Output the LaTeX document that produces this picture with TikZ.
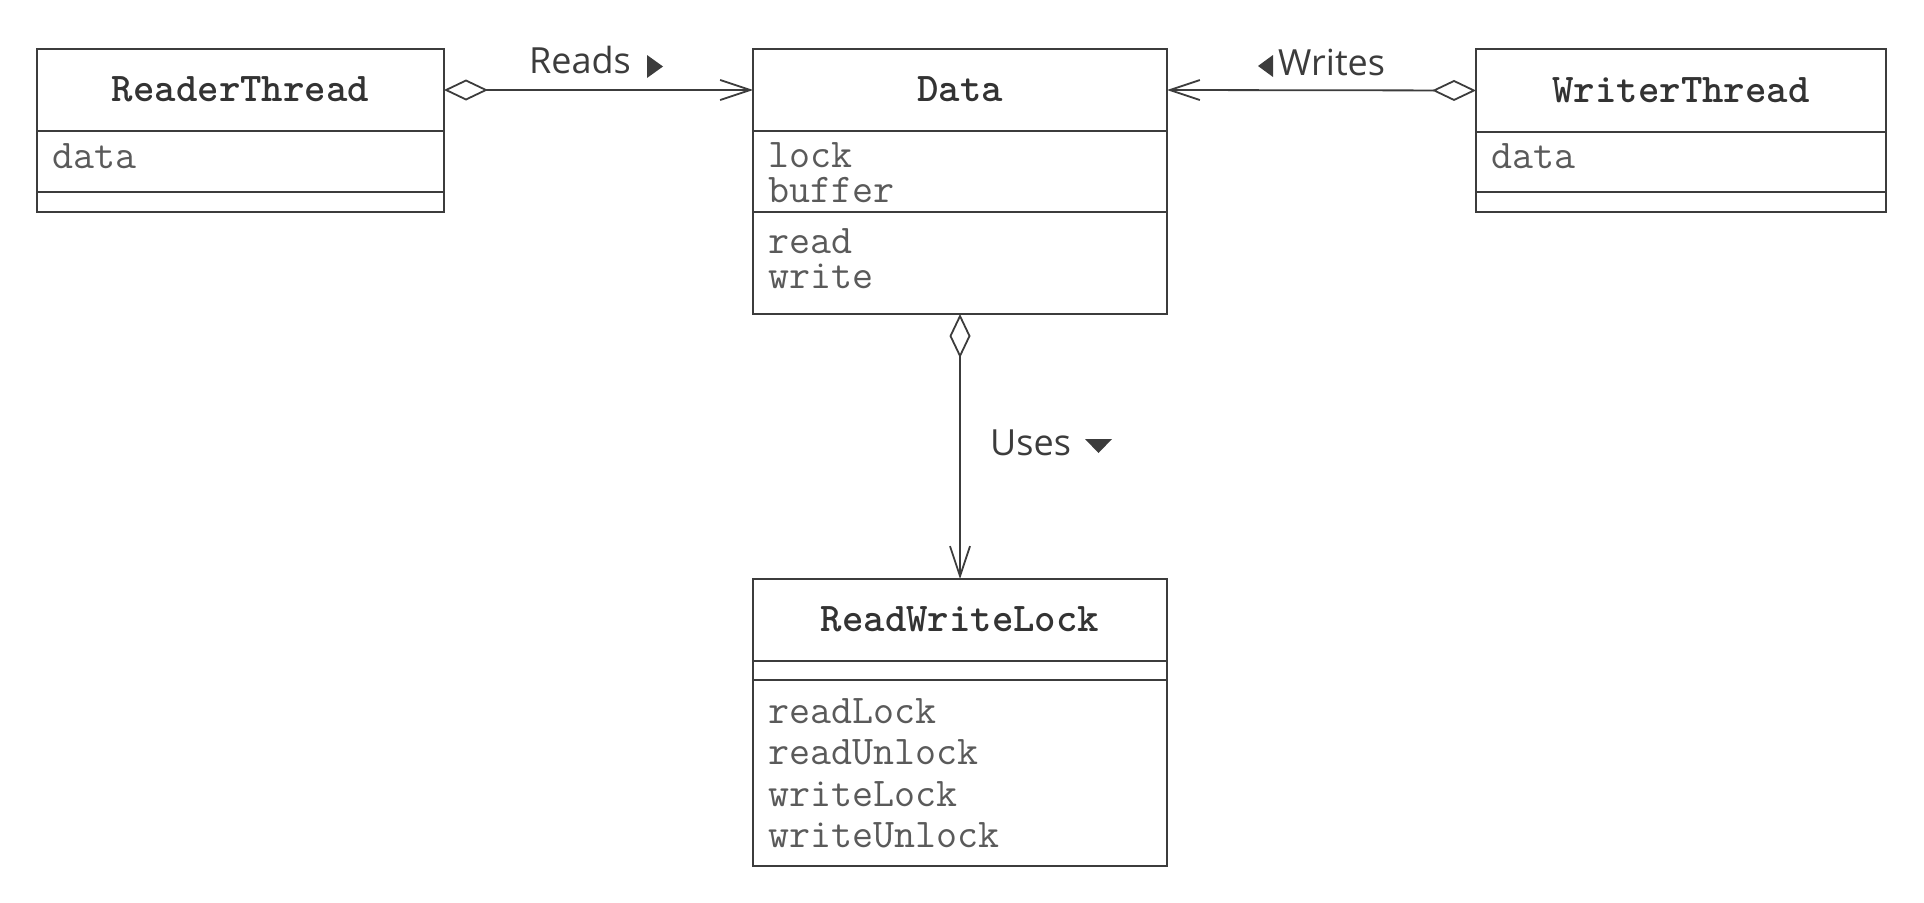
\documentclass[tikz,border=0pt]{standalone}
\usepackage{fontspec}
\usetikzlibrary{arrows.meta}
\newfontfamily\labelfont{Open Sans}
\definecolor{ln}{HTML}{3C3C3C}
\definecolor{itm}{HTML}{5A5A5A}
\definecolor{ttl}{HTML}{333333}
\begin{document}
\begin{tikzpicture}[x=1pt,y=-1pt,
  cls/.style={draw=ln, line width=1.8pt, rectangle, inner sep=0pt, outer sep=0pt, anchor=north west},
  ttlstyle/.style={font=\fontsize{40.8}{40.8}\selectfont\ttfamily\bfseries, text=ttl, text height=23pt, text depth=0pt},
  itemtext/.style={font=\fontsize{40.8}{40.8}\selectfont\ttfamily, text=itm, anchor=base west, inner sep=0pt, text height=22pt, text depth=4pt},
  lbl/.style={font=\fontsize{36}{36}\selectfont\labelfont, text=ln, anchor=base west, inner sep=0pt},
  tri/.style={fill=ln, draw=none},
  assoc/.style={draw=ln, line width=1.8pt,
    {Diamond[open,length=44pt,width=21pt,line width=1.8pt]}-{Straight Barb[length=30pt,width=20pt,line width=1.8pt]}}
]
\useasboundingbox (0,0) rectangle (1924,902);

% ReaderThread
\node[cls, minimum width=407pt, minimum height=82pt, ttlstyle] (rthead) at (37,49) {ReaderThread};
\node[cls, minimum width=407pt, minimum height=61pt] (rtattr) at (rthead.south west) {};
\node[cls, minimum width=407pt, minimum height=20pt] (rtops) at (rtattr.south west) {};
\node[itemtext] (rtdata) at (52,168) {data};

% Data
\node[cls, minimum width=414pt, minimum height=82pt, ttlstyle] (datahead) at (753,49) {Data};
\node[cls, minimum width=414pt, minimum height=81pt] (dataattr) at (datahead.south west) {};
\node[cls, minimum width=414pt, minimum height=102pt] (dataops) at (dataattr.south west) {};
\node[itemtext] (dlock) at (768,167) {lock};
\node[itemtext] (dbuffer) at (768,202) {buffer};
\node[itemtext] (dread) at (768,253) {read};
\node[itemtext] (dwrite) at (768,288) {write};

% WriterThread
\node[cls, minimum width=410pt, minimum height=83pt, ttlstyle] (wthead) at (1476,49) {WriterThread};
\node[cls, minimum width=410pt, minimum height=60pt] (wtattr) at (wthead.south west) {};
\node[cls, minimum width=410pt, minimum height=20pt] (wtops) at (wtattr.south west) {};
\node[itemtext] (wtdata) at (1491,168) {data};

% ReadWriteLock
\node[cls, minimum width=414pt, minimum height=82pt, ttlstyle] (rwlhead) at (753,579) {ReadWriteLock};
\node[cls, minimum width=414pt, minimum height=19pt] (rwlattr) at (rwlhead.south west) {};
\node[cls, minimum width=414pt, minimum height=186pt] (rwlops) at (rwlattr.south west) {};
\node[itemtext] (rl) at (768,723) {readLock};
\node[itemtext] (ru) at (768,764) {readUnlock};
\node[itemtext] (wl) at (768,806) {writeLock};
\node[itemtext] (wu) at (768,847) {writeUnlock};

% connectors
\draw[assoc] (rthead.east) -- (datahead.west);
\draw[assoc] (wthead.west) -- (datahead.east);
\draw[assoc] (dataops.south) -- (rwlhead.north);

% labels
\node[lbl] (lreads) at (529,73) {Reads};
\fill[tri] (647,55) -- (647,78) -- (663,66.5) -- cycle;
\node[lbl] (lwrites) at (1278,75) {Writes};
\fill[tri] (1273,55) -- (1273,77) -- (1258,66) -- cycle;
\node[lbl] (luses) at (990,455) {Uses};
\fill[tri] (1085,439) -- (1112,439) -- (1098.5,453) -- cycle;
\end{tikzpicture}
\end{document}
